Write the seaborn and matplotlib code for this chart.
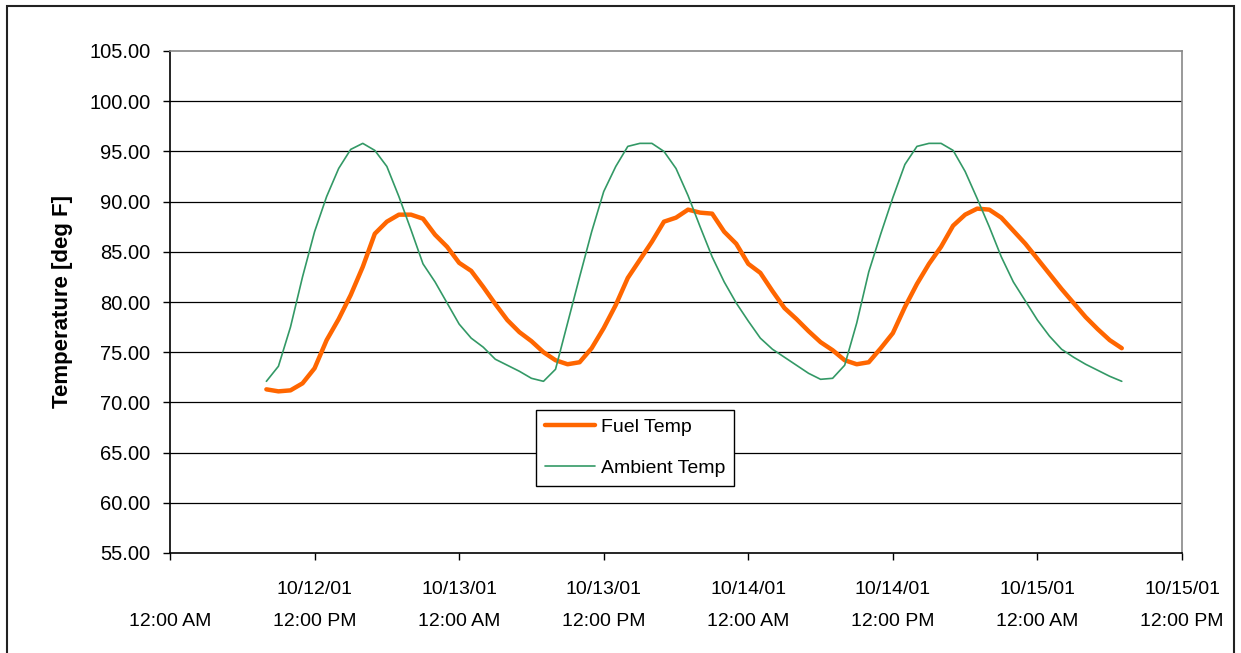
import numpy as np
import pandas as pd
import matplotlib
matplotlib.use("Agg")
import matplotlib.pyplot as plt
from matplotlib.patches import Rectangle
import seaborn as sns

# hours after 10/12/01 12:00 AM, one reading per hour
hours = list(range(8, 80))

fuel_temp = [
    71.3, 71.1, 71.2, 71.9, 73.4, 76.2, 78.3, 80.7, 83.5, 86.8, 88.0, 88.7,
    88.7, 88.3, 86.7, 85.5, 83.9, 83.1, 81.5, 79.8, 78.2, 77.0, 76.1, 75.0,
    74.2, 73.8, 74.0, 75.4, 77.4, 79.7, 82.4, 84.2, 86.0, 88.0, 88.4, 89.2,
    88.9, 88.8, 87.0, 85.8, 83.8, 82.9, 81.1, 79.4, 78.3, 77.1, 76.0, 75.2,
    74.2, 73.8, 74.0, 75.4, 76.9, 79.5, 81.8, 83.8, 85.5, 87.6, 88.7, 89.3,
    89.2, 88.4, 87.1, 85.8, 84.3, 82.8, 81.3, 79.9, 78.5, 77.3, 76.2, 75.4,
]

ambient_temp = [
    72.1, 73.6, 77.5, 82.5, 87.0, 90.5, 93.3, 95.2, 95.8, 95.1, 93.5, 90.5,
    87.2, 83.8, 82.0, 79.9, 77.8, 76.4, 75.5, 74.3, 73.7, 73.1, 72.4, 72.1,
    73.3, 77.9, 82.5, 87.0, 91.0, 93.5, 95.5, 95.8, 95.8, 95.0, 93.3, 90.6,
    87.5, 84.5, 82.0, 79.9, 78.1, 76.4, 75.3, 74.5, 73.7, 72.9, 72.3, 72.4,
    73.7, 77.9, 83.0, 86.8, 90.4, 93.7, 95.5, 95.8, 95.8, 95.1, 93.0, 90.3,
    87.5, 84.5, 82.0, 80.1, 78.2, 76.6, 75.3, 74.5, 73.8, 73.2, 72.6, 72.1,
]

tick_hours = [0, 12, 24, 36, 48, 60, 72, 84]
tick_labels = [
    "\n12:00 AM",
    "10/12/01\n12:00 PM",
    "10/13/01\n12:00 AM",
    "10/13/01\n12:00 PM",
    "10/14/01\n12:00 AM",
    "10/14/01\n12:00 PM",
    "10/15/01\n12:00 AM",
    "10/15/01\n12:00 PM",
]

df = pd.DataFrame({"hours": hours, "Fuel Temp": fuel_temp, "Ambient Temp": ambient_temp})

sns.set_theme(style="white")
plt.rcParams["font.family"] = ["Liberation Sans", "DejaVu Sans"]
plt.rcParams["text.color"] = "black"
plt.rcParams["axes.labelcolor"] = "black"

fig = plt.figure(figsize=(12.41, 6.53), dpi=100)
ax = fig.add_axes([170 / 1241, 1 - 553 / 653, 1012 / 1241, 502 / 653])

sns.lineplot(data=df, x="hours", y="Fuel Temp", ax=ax, color="#FF6600",
             linewidth=3.2, label="Fuel Temp")
sns.lineplot(data=df, x="hours", y="Ambient Temp", ax=ax, color="#339966",
             linewidth=1.2, label="Ambient Temp")

ax.set_xlim(0, 84)
ax.set_ylim(55, 105)
ax.set_xticks(tick_hours)
ax.set_xticklabels(tick_labels, linespacing=2.15)
yt = np.arange(55, 106, 5)
ax.set_yticks(yt)
ax.set_yticklabels([f"{v:.2f}" for v in yt])
ax.tick_params(axis="both", colors="black", direction="out",
               length=5, width=1, left=True, bottom=True)
ax.tick_params(axis="x", labelsize=14, pad=15)
ax.tick_params(axis="y", labelsize=14.5, pad=9)

ax.set_xlabel("")
ax.set_ylabel("Temperature [deg F]", fontsize=16, fontweight="bold", labelpad=12)

for v in yt[1:-1]:
    ax.axhline(v, color="black", linewidth=0.9, zorder=0)

ax.spines["left"].set_color("black")
ax.spines["bottom"].set_color("black")
ax.spines["top"].set_color("#888888")
ax.spines["right"].set_color("#888888")
for s in ax.spines.values():
    s.set_linewidth(1.2)

leg = ax.legend(loc="lower left", bbox_to_anchor=(0.3617, 0.1335), borderaxespad=0,
                fontsize=14, handlelength=2.6, handletextpad=0.3,
                labelspacing=1.2, borderpad=0.45, fancybox=False, framealpha=1)
leg.get_frame().set_edgecolor("black")
leg.get_frame().set_linewidth(1.0)

fig.patches.append(Rectangle((7 / 1241, -0.01), 1227 / 1241, 1 - 6 / 653 + 0.01,
                             transform=fig.transFigure, fill=False,
                             edgecolor="#222222", linewidth=1.5))

fig.savefig("out.png", dpi=100)
